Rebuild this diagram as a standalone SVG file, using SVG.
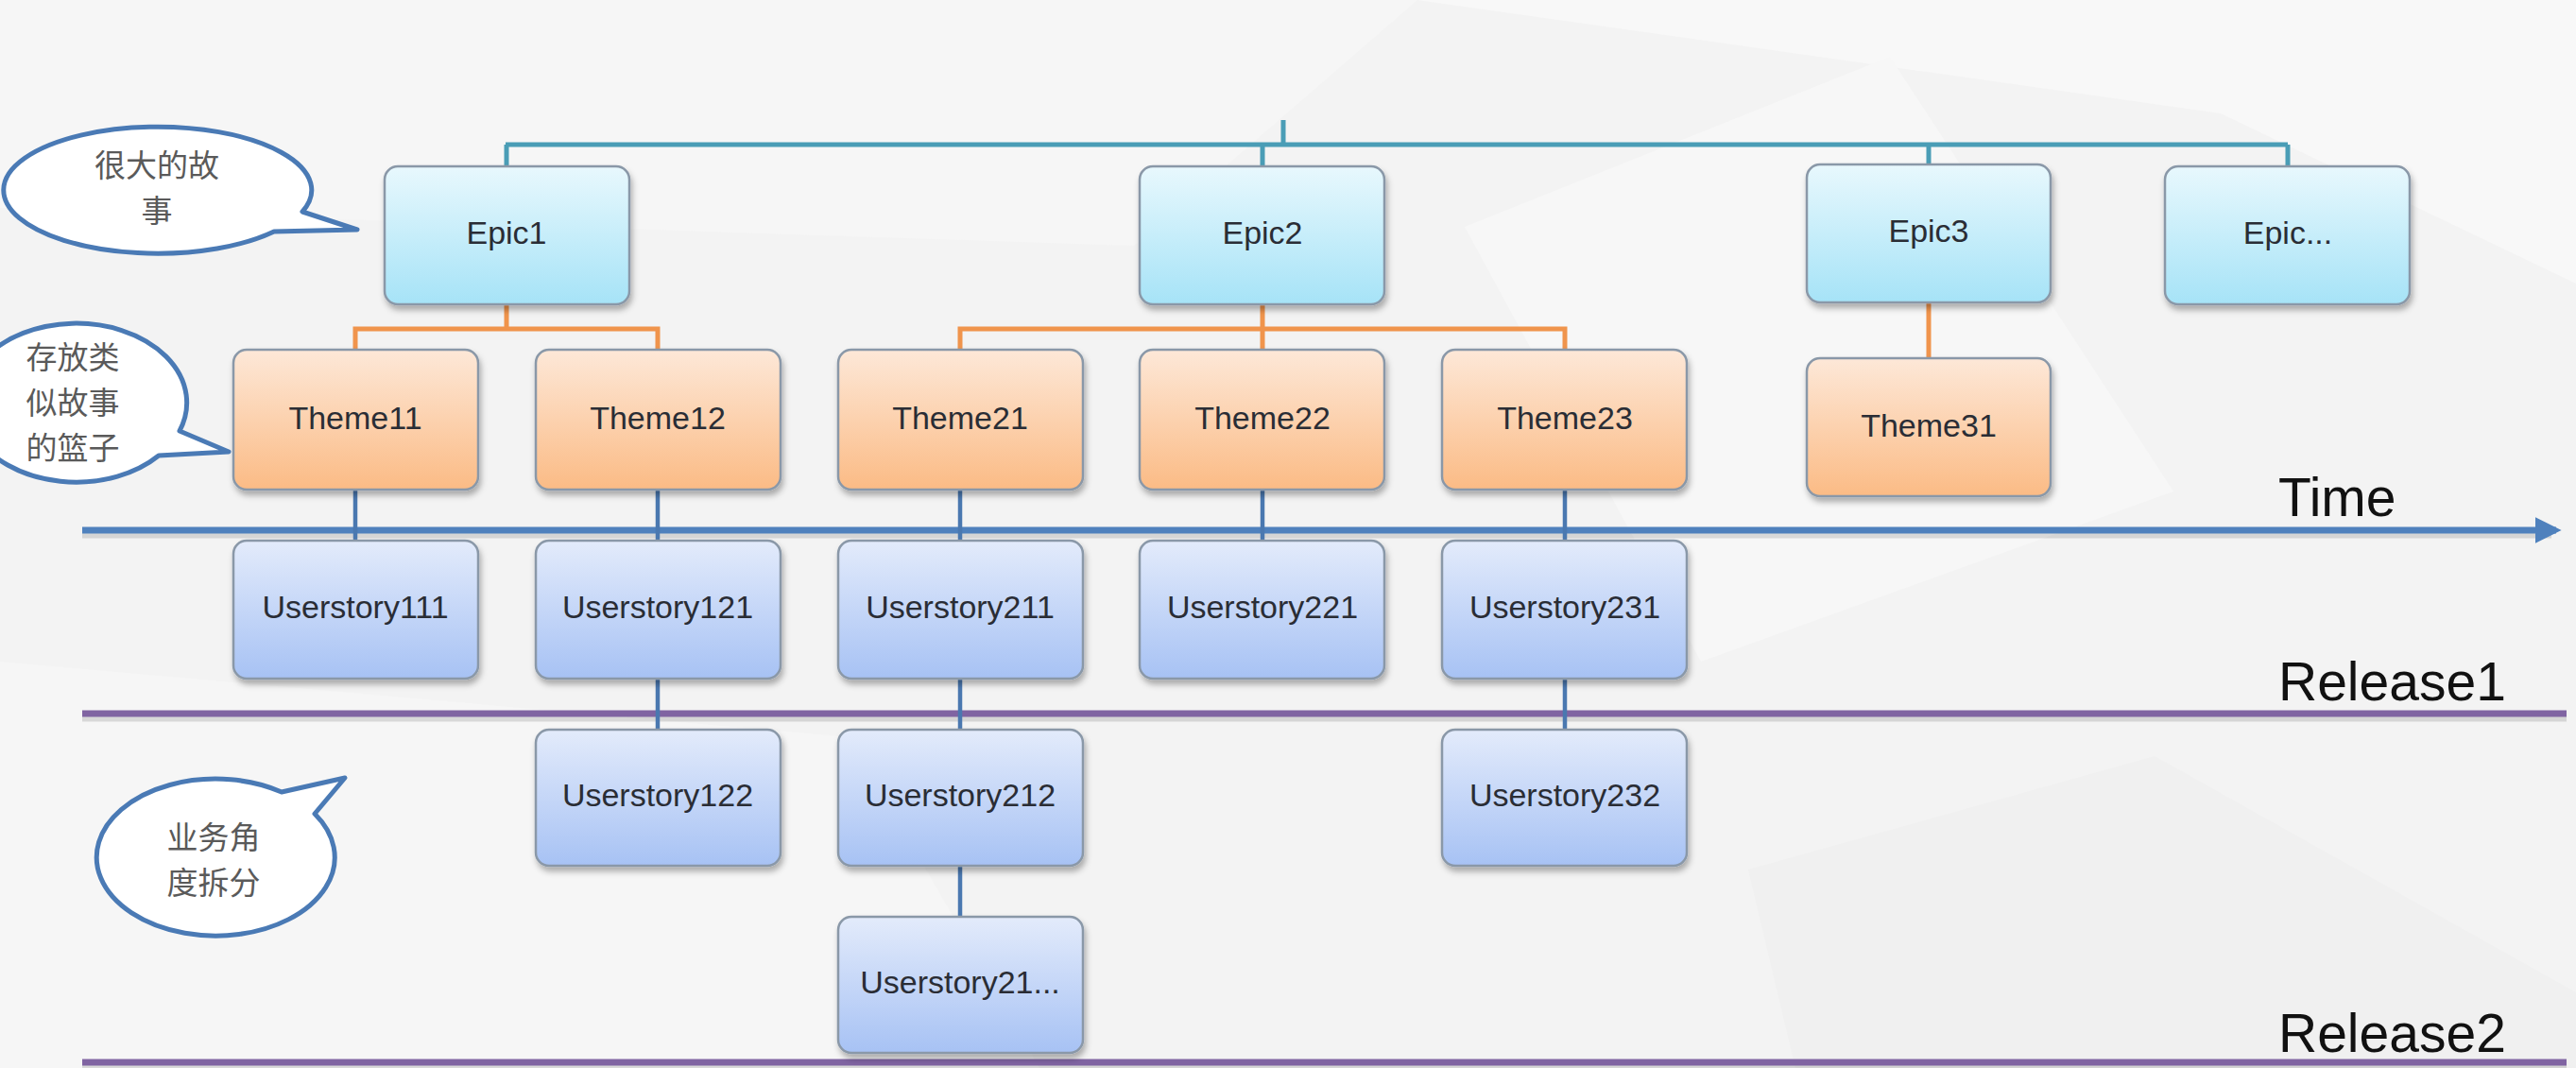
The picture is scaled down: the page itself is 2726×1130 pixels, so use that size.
<svg xmlns="http://www.w3.org/2000/svg" width="2726" height="1130" viewBox="0 0 2726 1130">
<defs>
<linearGradient id="gEpic" x1="0" y1="0" x2="0" y2="1"><stop offset="0" stop-color="#e8f8fd"/><stop offset="1" stop-color="#a6e3f7"/></linearGradient>
<linearGradient id="gTheme" x1="0" y1="0" x2="0" y2="1"><stop offset="0" stop-color="#fde8d8"/><stop offset="1" stop-color="#fbbb85"/></linearGradient>
<linearGradient id="gUser" x1="0" y1="0" x2="0" y2="1"><stop offset="0" stop-color="#e3ebfb"/><stop offset="1" stop-color="#a7c2f4"/></linearGradient>
<filter id="sh" x="-10%" y="-10%" width="125%" height="130%"><feDropShadow dx="2" dy="5" stdDeviation="3" flood-color="#000" flood-opacity="0.3"/></filter>
<marker id="arr" viewBox="0 0 10 10" refX="8" refY="5" markerWidth="4" markerHeight="4" orient="auto" markerUnits="strokeWidth"><path d="M0,0 L10,5 L0,10 Z" fill="#4f81bd"/></marker>
<style>
.box{stroke:#8a98a8;stroke-width:2.5;filter:url(#sh)}
.epic{fill:url(#gEpic)}
.theme{fill:url(#gTheme)}
.user{fill:url(#gUser)}
.lbl{font-family:"Liberation Sans",Arial,sans-serif;font-size:34px;fill:#2a2d35;text-anchor:middle}
.axis{font-family:"Liberation Sans",Arial,sans-serif;font-size:57px;fill:#111}
.bub{fill:#fff;stroke:#4a7ab5;stroke-width:5;stroke-linejoin:round}
.cjk{font-family:"Noto Sans CJK SC","Noto Sans CJK JP",sans-serif;font-size:33px;fill:#5a5a5a;text-anchor:middle}
.teal{stroke:#4a9db6;stroke-width:5;fill:none}
.org{stroke:#f0944c;stroke-width:5;fill:none}
.blu{stroke:#4a78b0;stroke-width:4.5;fill:none}
.lshadow{stroke:#000;stroke-opacity:0.12;stroke-width:7}
</style>
</defs>
<g id="background">
<rect width="2726" height="1130" fill="#f3f3f3"/>
<polygon points="0,0 1500,0 1200,260 0,220" fill="#f6f6f6"/>
<polygon points="1500,0 2726,0 2726,300 2350,120" fill="#f8f8f8"/>
<polygon points="1550,240 2000,60 2300,520 1800,700" fill="#f7f7f7"/>
<polygon points="0,700 900,780 1100,1130 0,1130" fill="#f6f6f6"/>
<polygon points="1850,920 2280,800 2726,1050 2726,1130 1900,1130" fill="#f0f0f0"/>
</g>
<g id="timeline">
<line class="lshadow" x1="87" y1="566" x2="2700" y2="566"/>
<line x1="87" y1="561" x2="2705" y2="561" stroke="#4f81bd" stroke-width="7" marker-end="url(#arr)"/>
<text class="axis" x="2411" y="546">Time</text>
</g>
<g id="release1">
<line class="lshadow" x1="87" y1="760" x2="2716" y2="760"/>
<line x1="87" y1="755" x2="2716" y2="755" stroke="#8064a2" stroke-width="7"/>
<text class="axis" x="2411" y="741">Release1</text>
</g>
<g id="release2">
<line class="lshadow" x1="87" y1="1129" x2="2716" y2="1129"/>
<line x1="87" y1="1124" x2="2716" y2="1124" stroke="#8064a2" stroke-width="7"/>
<text class="axis" x="2411" y="1113">Release2</text>
</g>
<g id="connectors">
<path class="teal" d="M1358,127 V153 M535,153 H2421 M536,153 V176 M1336,153 V176 M2041,153 V174 M2421,153 V176"/>
<path class="org" d="M536,322 V348 M376,370 V348 H696 V370 M1336,322 V370 M1016,370 V348 H1656 V370 M2041,320 V379"/>
<path class="blu" d="M376,518 V572 M696,518 V572 M1016,518 V572 M1336,518 V572 M1656,518 V572 M696,718 V772 M1016,718 V772 M1656,718 V772 M1016,916 V970"/>
</g>
<g id="epic1"><rect class="box epic" x="407" y="176" width="259" height="146" rx="14"/><text class="lbl" x="536" y="258">Epic1</text></g>
<g id="epic2"><rect class="box epic" x="1206" y="176" width="259" height="146" rx="14"/><text class="lbl" x="1336" y="258">Epic2</text></g>
<g id="epic3"><rect class="box epic" x="1912" y="174" width="258" height="146" rx="14"/><text class="lbl" x="2041" y="256">Epic3</text></g>
<g id="epic4"><rect class="box epic" x="2291" y="176" width="259" height="146" rx="14"/><text class="lbl" x="2421" y="258">Epic...</text></g>
<g id="theme11"><rect class="box theme" x="247" y="370" width="259" height="148" rx="14"/><text class="lbl" x="376" y="454">Theme11</text></g>
<g id="theme12"><rect class="box theme" x="567" y="370" width="259" height="148" rx="14"/><text class="lbl" x="696" y="454">Theme12</text></g>
<g id="theme21"><rect class="box theme" x="887" y="370" width="259" height="148" rx="14"/><text class="lbl" x="1016" y="454">Theme21</text></g>
<g id="theme22"><rect class="box theme" x="1206" y="370" width="259" height="148" rx="14"/><text class="lbl" x="1336" y="454">Theme22</text></g>
<g id="theme23"><rect class="box theme" x="1526" y="370" width="259" height="148" rx="14"/><text class="lbl" x="1656" y="454">Theme23</text></g>
<g id="theme31"><rect class="box theme" x="1912" y="379" width="258" height="146" rx="14"/><text class="lbl" x="2041" y="462">Theme31</text></g>
<g id="us111"><rect class="box user" x="247" y="572" width="259" height="146" rx="14"/><text class="lbl" x="376" y="654">Userstory111</text></g>
<g id="us121"><rect class="box user" x="567" y="572" width="259" height="146" rx="14"/><text class="lbl" x="696" y="654">Userstory121</text></g>
<g id="us211"><rect class="box user" x="887" y="572" width="259" height="146" rx="14"/><text class="lbl" x="1016" y="654">Userstory211</text></g>
<g id="us221"><rect class="box user" x="1206" y="572" width="259" height="146" rx="14"/><text class="lbl" x="1336" y="654">Userstory221</text></g>
<g id="us231"><rect class="box user" x="1526" y="572" width="259" height="146" rx="14"/><text class="lbl" x="1656" y="654">Userstory231</text></g>
<g id="us122"><rect class="box user" x="567" y="772" width="259" height="144" rx="14"/><text class="lbl" x="696" y="853">Userstory122</text></g>
<g id="us212"><rect class="box user" x="887" y="772" width="259" height="144" rx="14"/><text class="lbl" x="1016" y="853">Userstory212</text></g>
<g id="us232"><rect class="box user" x="1526" y="772" width="259" height="144" rx="14"/><text class="lbl" x="1656" y="853">Userstory232</text></g>
<g id="us21x"><rect class="box user" x="887" y="970" width="259" height="144" rx="14"/><text class="lbl" x="1016" y="1051">Userstory21...</text></g>
<g id="callout1">
<path class="bub" d="M320,224 L378,243 L290,245 A163,67 0 1 1 320,224 Z"/>
<text class="cjk" x="166" y="187">很大的故<tspan x="166" dy="48">事</tspan></text>
</g>
<g id="callout2">
<path class="bub" d="M190,456 L242,478 L168,482 A117,84 0 1 1 190,456 Z"/>
<text class="cjk" x="77" y="390">存放类<tspan x="77" dy="48">似故事</tspan><tspan x="77" dy="48">的篮子</tspan></text>
</g>
<g id="callout3">
<path class="bub" d="M298,838 L365,823 L333,861 A126,83 0 1 1 298,838 Z"/>
<text class="cjk" x="226" y="898">业务角<tspan x="226" dy="48">度拆分</tspan></text>
</g>
</svg>
